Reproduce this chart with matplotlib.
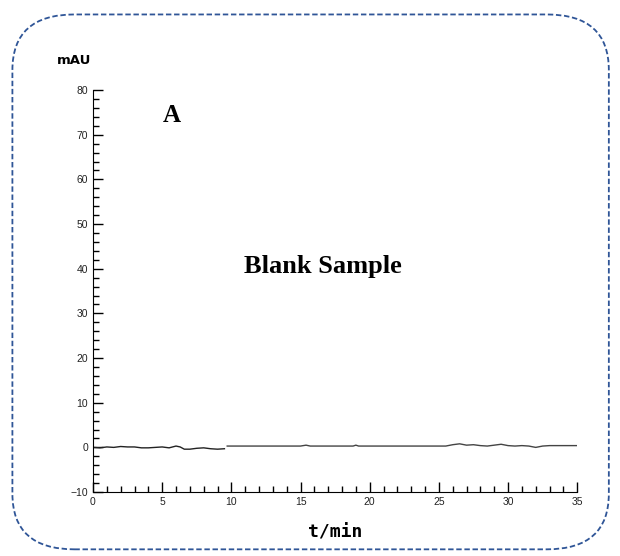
import matplotlib.pyplot as plt
from matplotlib.patches import FancyBboxPatch
from matplotlib.ticker import MultipleLocator

# chromatogram trace, two pieces (small gap near 9.6 min)
t1 = [0, 0.5, 1, 1.5, 2, 2.5, 3, 3.5, 4, 4.5, 5, 5.5, 6, 6.3, 6.6, 7, 7.5, 8, 8.5, 9, 9.5]
v1 = [0.0, -0.1, 0.1, 0.0, 0.2, 0.1, 0.1, -0.1, -0.1, 0.0, 0.1, -0.1, 0.3, 0.1, -0.4, -0.4, -0.2, -0.1, -0.3, -0.4, -0.3]
t2 = [9.7, 10, 12, 15, 15.4, 15.7, 18.8, 19, 19.2, 25.5, 26, 26.5, 27, 27.5, 28, 28.5, 29, 29.5,
      30, 30.5, 31, 31.5, 32, 32.5, 33, 33.5, 35]
v2 = [0.3, 0.3, 0.3, 0.3, 0.5, 0.3, 0.3, 0.5, 0.3, 0.3, 0.6, 0.8, 0.5, 0.6, 0.4, 0.3, 0.5, 0.7,
      0.4, 0.3, 0.4, 0.3, 0.0, 0.3, 0.4, 0.4, 0.4]

xticks = [0, 5, 10, 15, 20, 25, 30, 35]
yticks = [-10, 0, 10, 20, 30, 40, 50, 60, 70, 80]

fig = plt.figure(figsize=(6.2, 5.56), dpi=100)

# rounded dashed frame
frame = FancyBboxPatch((0.02, 0.012), 0.962, 0.962, transform=fig.transFigure,
                       boxstyle="round,pad=0,rounding_size=0.1", fill=False,
                       edgecolor='#2f5597', linestyle=(0, (3, 1.5)), linewidth=1.3)
fig.patches.append(frame)

ax = fig.add_axes([0.15, 0.115, 0.781, 0.723])
ax.plot(t1, v1, color='#222222', linewidth=1.0)
ax.plot(t2, v2, color='#444444', linewidth=1.0)

ax.set_xlim(0, 35)
ax.set_ylim(-10, 80)
ax.set_xticks(xticks)
ax.set_yticks(yticks)
ax.xaxis.set_minor_locator(MultipleLocator(1))
ax.yaxis.set_minor_locator(MultipleLocator(2))
ax.spines['top'].set_visible(False)
ax.spines['right'].set_visible(False)
ax.tick_params(which='both', direction='in', labelsize=7.5, width=1, labelcolor='#222222')
ax.tick_params(which='major', length=7)
ax.tick_params(which='minor', length=4)
for lbl in ax.get_xticklabels() + ax.get_yticklabels():
    lbl.set_family('Liberation Sans')

fig.text(0.092, 0.892, 'mAU', fontsize=9.5, fontweight='bold', family='DejaVu Sans', ha='left', va='center')
fig.text(0.54, 0.043, 't/min', fontsize=13, fontweight='bold', family='DejaVu Sans Mono', ha='center', va='center')
ax.text(5.7, 74.3, 'A', fontsize=18, fontweight='bold', family='Liberation Serif', ha='center', va='center')
ax.text(16.6, 40.5, 'Blank Sample', fontsize=19, fontweight='bold', family='Liberation Serif', ha='center', va='center')

fig.savefig('out.png', dpi=100)
